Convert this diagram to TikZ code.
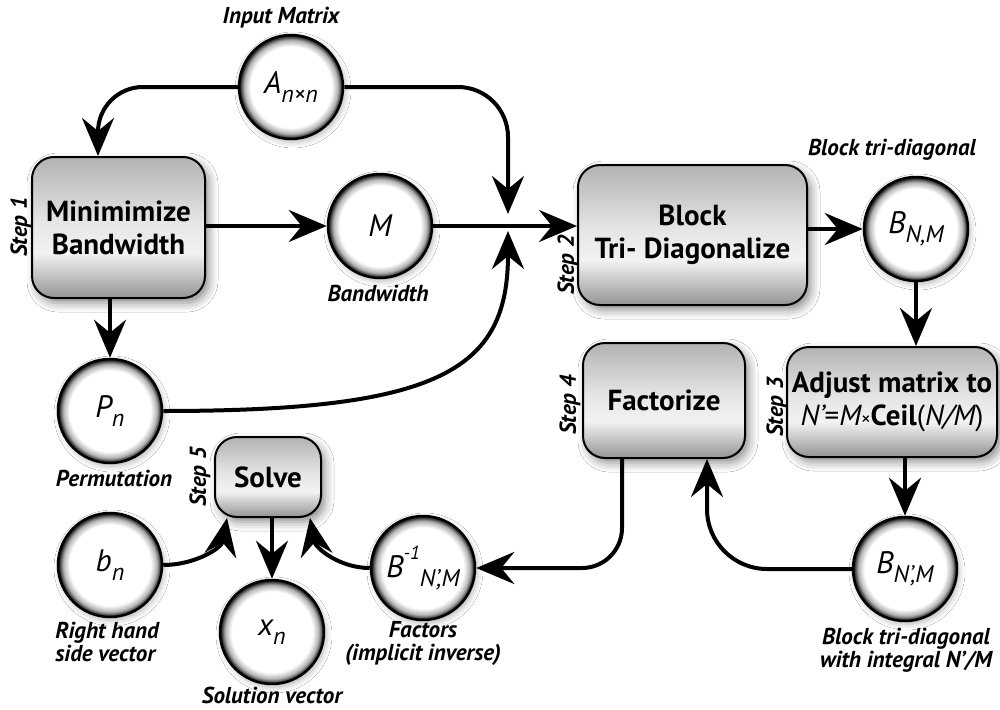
\documentclass[tikz,border=0pt]{standalone}
\usepackage{fontspec}
\setmainfont{PT Sans}
\usetikzlibrary{arrows.meta,shadows.blur}

\pgfdeclareradialshading{ringball}{\pgfpoint{0bp}{0bp}}{color(0bp)=(white); color(19.5bp)=(white); color(22.5bp)=(black!30); color(24.3bp)=(black!80); color(25bp)=(black); color(50bp)=(black)}
\pgfdeclareverticalshading{boxshade}{100bp}{color(0bp)=(black!42); color(25bp)=(black!42); color(41bp)=(black!5); color(52bp)=(black!10); color(75bp)=(black!30); color(100bp)=(black!30)}

\newcommand\lowsub[1]{\raisebox{-0.3em}{\fontsize{24}{24}\selectfont\itshape #1}}
\newcommand\hisup[1]{\raisebox{0.6em}{\fontsize{19}{19}\selectfont\itshape #1}}

\tikzset{
 box/.style={draw=black, line width=2pt, rounded corners=22pt, shade, shading=boxshade, align=center, inner sep=0pt, font=\fontsize{29}{33}\selectfont\bfseries, blur shadow={shadow xshift=4pt, shadow yshift=-5pt, shadow blur radius=9pt, shadow opacity=45}},
 ball/.style={circle, draw=black, line width=2.5pt, shade, shading=ringball, minimum size=104pt, inner sep=0pt, font=\fontsize{31}{31}\selectfont\itshape, blur shadow={shadow xshift=2pt, shadow yshift=-3pt, shadow blur radius=6pt, shadow opacity=30}},
 lbl/.style={font=\fontsize{23}{23}\selectfont\bfseries\itshape, align=center},
 steplbl/.style={font=\fontsize{23}{25}\selectfont\bfseries\itshape, rotate=90},
 arr/.style={line width=4pt, -{Stealth[length=38pt,width=32pt,inset=13pt]}},
}

\begin{document}
\begin{tikzpicture}[x=1pt,y=-1pt]
\fill[white] (0,0) rectangle (1000,709);
\useasboundingbox (0,0) rectangle (1000,709);

% boxes
\node[box, minimum width=173pt, minimum height=141pt] (mb) at (118.5,227.5) {Minimimize\\Bandwidth};
\node[box, minimum width=229pt, minimum height=140pt] (bt) at (692.5,235) {Block\\Tri- Diagonalize};
\node[box, minimum width=210pt, minimum height=110pt] (adj) at (892,402) {Adjust matrix to\\{\mdseries\itshape N’}{\mdseries =}{\mdseries\itshape M}{\mdseries\fontsize{19}{19}\selectfont ×}Ceil{\mdseries(\itshape N/M\upshape)}};
\node[box, minimum width=162pt, minimum height=115pt] (fac) at (664,400.5) {Factorize};
\node[box, minimum width=106pt, minimum height=80pt] (solve) at (268,477) {Solve};

% circles
\node[ball] (A) at (291,87) {A\lowsub{n×n}};
\node[ball] (M) at (380,226) {M};
\node[ball] (Bnm) at (916,229) {B\lowsub{N,M}};
\node[ball] (Pn) at (110,411) {P\lowsub{n}};
\node[ball] (Bnpm) at (905,569) {B\lowsub{N’,M}};
\node[ball] (Binv) at (423,568) {B\hisup{-1}\lowsub{N’,M}};
\node[ball] (bn) at (110,565) {b\lowsub{n}};
\node[ball] (xn) at (272,632) {x\lowsub{n}};

% labels
\node[lbl] (lA) at (281,18) {Input Matrix};
\node[lbl] (lM) at (378,293) {Bandwidth};
\node[lbl] (lBnm) at (892,150) {Block tri-diagonal};
\node[lbl] (lPn) at (114,478) {Permutation};
\node[lbl, align=left] (lbn) at (107,642) {Right hand\\side vector};
\node[lbl] (lxn) at (272,695) {Solution vector};
\node[lbl] (lBinv) at (423,643) {Factors\\(implicit inverse)};
\node[lbl] (lBnpm) at (906,650) {Block tri-diagonal\\with integral N’/M};

\node[steplbl] (s1) at (21,227) {Step 1};
\node[steplbl] (s2) at (568,265) {Step 2};
\node[steplbl] (s3) at (777,407) {Step 3};
\node[steplbl] (s4) at (570,405) {Step 4};
\node[steplbl] (s5) at (200,477) {Step 5};

% junction points
\coordinate (j1) at (508,214);
\coordinate (j2) at (508,231);

% connectors
\draw[arr, rounded corners=45pt] (A.west) -| ([xshift=-20.5pt]mb.north);
\draw[arr, rounded corners=50pt] (A.east) -| (j1);
\draw[arr] (mb.east |- M.west) -- (M.west);
\draw[arr] (M.east) -- (M.east -| bt.west);
\draw[arr] (Pn.east) .. controls (440,411) and (508,370) .. (j2);
\draw[arr] (Bnm.west -| bt.east) -- (Bnm.west);
\draw[arr] (Bnm.south) -- (Bnm.south |- adj.north);
\draw[arr] (adj.south -| Bnpm.north) -- (Bnpm.north);
\draw[arr] (mb.south -| Pn.north) -- (Pn.north);
\draw[arr, rounded corners=60pt] (Bnpm.west) -| ([xshift=43pt]fac.south);
\draw[arr, rounded corners=40pt] ([xshift=-42pt]fac.south) |- (Binv.east);
\draw[arr] (Binv.west) to[out=180,in=-80] ([xshift=42pt]solve.south);
\draw[arr] (bn.east) to[out=0,in=-100] ([xshift=-41pt]solve.south);
\draw[arr] (solve.south -| xn.north) -- (xn.north);
\end{tikzpicture}
\end{document}
